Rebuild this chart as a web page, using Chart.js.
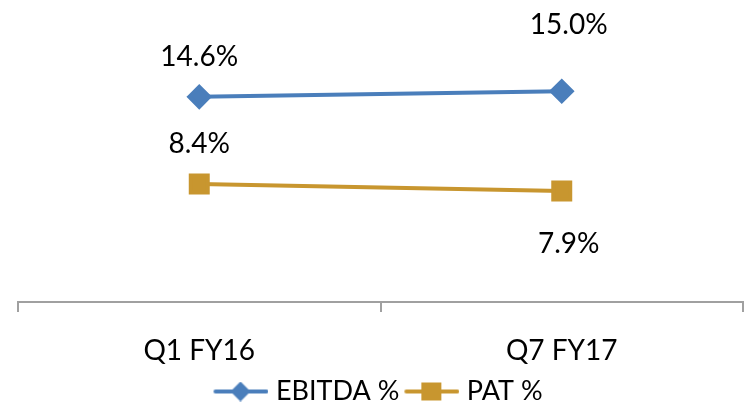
<!DOCTYPE html>
<html>
<head>
<meta charset="utf-8">
<script src="https://cdn.jsdelivr.net/npm/chart.js@4"></script>
<style>
  html, body { margin:0; padding:0; background:#fff; }
  #wrap { width:750px; height:412px; position:relative; }
</style>
</head>
<body>
<div id="wrap"><canvas id="chart" width="750" height="412"></canvas></div>
<script>
const categories = ['Q1 FY16', 'Q7 FY17'];
const ebitda = [14.6, 15.0];
const pat = [8.4, 7.9];
const seriesNames = ['EBITDA %', 'PAT %'];

const blue = '#4A7EBB';
const gold = '#C8962F';
const font = 'Lato, "Open Sans", sans-serif';

// label offsets (px) from each point: [dx, dy]
const labelShift = [
  [[0, -40], [7, -66]],
  [[0, -40], [7, 53]]
];

// legend swatch: line with marker in the middle
function swatch(color, shape) {
  const c = document.createElement('canvas');
  c.width = 56; c.height = 20;
  const g = c.getContext('2d');
  g.strokeStyle = color; g.lineWidth = 4; g.lineCap = 'round';
  g.beginPath(); g.moveTo(3, 10); g.lineTo(54, 10); g.stroke();
  g.fillStyle = color;
  if (shape === 'diamond') {
    g.beginPath(); g.moveTo(28, 0); g.lineTo(38, 10); g.lineTo(28, 20); g.lineTo(18, 10); g.closePath(); g.fill();
  } else {
    g.fillRect(18, 1, 20, 18);
  }
  return c;
}

const valueLabels = {
  id: 'valueLabels',
  afterDatasetsDraw(chart) {
    const ctx = chart.ctx;
    ctx.save();
    ctx.font = '28px ' + font;
    ctx.fillStyle = '#000';
    ctx.textAlign = 'center';
    ctx.textBaseline = 'middle';
    chart.data.datasets.forEach((ds, di) => {
      chart.getDatasetMeta(di).data.forEach((pt, i) => {
        const [dx, dy] = labelShift[di][i];
        ctx.fillText(ds.data[i].toFixed(1) + '%', pt.x + dx, pt.y + dy);
      });
    });
    ctx.restore();
  }
};

new Chart(document.getElementById('chart'), {
  type: 'line',
  data: {
    labels: categories,
    datasets: [
      { label: seriesNames[0], data: ebitda, borderColor: blue, backgroundColor: blue,
        borderWidth: 4, pointStyle: 'rectRot', pointRadius: 10, pointHoverRadius: 10 },
      { label: seriesNames[1], data: pat, borderColor: gold, backgroundColor: gold,
        borderWidth: 4, pointStyle: 'rect', pointRadius: 12, pointHoverRadius: 12 }
    ]
  },
  options: {
    responsive: false,
    animation: false,
    layout: { autoPadding: false, padding: { left: 18, right: 7, top: 21, bottom: -3 } },
    plugins: {
      legend: {
        position: 'bottom',
        labels: {
          usePointStyle: true,
          pointStyleWidth: 44,
          color: '#000',
          font: { family: font, size: 27 },
          padding: 10,
          generateLabels: chart => chart.data.datasets.map((ds, i) => ({
            text: ds.label,
            pointStyle: swatch(ds.borderColor, i === 0 ? 'diamond' : 'square'),
            fillStyle: ds.borderColor, strokeStyle: ds.borderColor,
            lineWidth: 0, datasetIndex: i, fontColor: '#000'
          }))
        }
      },
      tooltip: { enabled: false }
    },
    scales: {
      x: {
        offset: true,
        afterFit: s => { s.height = 66; },
        border: { display: true, color: '#A0A0A0', width: 2 },
        grid: { offset: true, drawOnChartArea: false, drawTicks: true, tickLength: 10, color: '#A0A0A0', lineWidth: 2 },
        ticks: { color: '#000', font: { family: font, size: 28 }, padding: 22 }
      },
      y: { display: false, min: 0, max: 20 }
    }
  },
  plugins: [valueLabels]
});
</script>
</body>
</html>
